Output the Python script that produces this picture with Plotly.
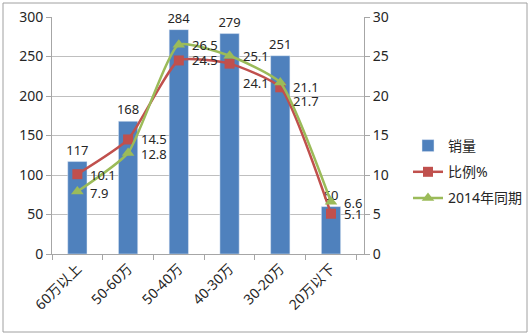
import plotly.graph_objects as go

categories = ["60万以上", "50-60万", "50-40万", "40-30万", "30-20万", "20万以下"]
sales = [117, 168, 284, 279, 251, 60]
ratio = [10.1, 14.5, 24.5, 24.1, 21.1, 5.1]
same_2014 = [7.9, 12.8, 26.5, 25.1, 21.7, 6.6]

# label vertical pixel shifts (style only)
ratio_yshift = [-1, 0, 0, -19, 0, 0]
y2014_yshift = [-1, -1, 0, 0, -18, -1]

FONT = "Noto Sans, Noto Sans CJK SC, sans-serif"
W, H = 530, 336
L, R, T, B = 52, 166, 17, 82

fig = go.Figure()
fig.add_trace(go.Bar(
    x=categories, y=sales, name="销量", marker_color="#4f81bd",
    width=0.38, text=[str(v) for v in sales], textposition="outside",
    constraintext="none",
    textfont=dict(size=13, color="#262626"), cliponaxis=False, yaxis="y",
    legendgroup="a"))
fig.add_trace(go.Scatter(
    x=categories, y=ratio, name="比例%", mode="lines+markers",
    line=dict(color="#c0504d", width=2.5, shape="spline", smoothing=0.5),
    marker=dict(symbol="square", size=10, color="#c0504d"),
    cliponaxis=False, yaxis="y2", legendgroup="b"))
fig.add_trace(go.Scatter(
    x=categories, y=same_2014, name="2014年同期", mode="lines+markers",
    line=dict(color="#9bbb59", width=2.5, shape="spline", smoothing=0.5),
    marker=dict(symbol="triangle-up", size=11, color="#9bbb59"),
    cliponaxis=False, yaxis="y2", legendgroup="c"))

for series, shifts in ((ratio, ratio_yshift), (same_2014, y2014_yshift)):
    for c, v, s in zip(categories, series, shifts):
        fig.add_annotation(x=c, y=v, xref="x", yref="y2", text=str(v),
                           showarrow=False, xanchor="left", yanchor="middle",
                           xshift=11, yshift=s,
                           font=dict(size=13, color="#262626"))

pw = W - L - R
ph = H - T - B
def px(x):
    return (x - L) / pw
def py(y):
    return (H - B - y) / ph

fig.update_layout(
    width=W, height=H,
    margin=dict(l=L, r=R, t=T, b=B, autoexpand=False),
    paper_bgcolor="white", plot_bgcolor="white",
    font=dict(family=FONT, size=13, color="#262626"),
    xaxis=dict(type="category", showline=True, linecolor="#a6a6a6", linewidth=1,
               ticks="outside", tickson="boundaries", ticklen=5, tickcolor="#a6a6a6",
               tickangle=-45, tickfont=dict(size=14), showgrid=False, automargin=False),
    yaxis=dict(range=[0, 300], dtick=50, showgrid=True, gridcolor="#bfbfbf",
               showline=True, linecolor="#a6a6a6", ticks="outside", ticklen=5,
               tickcolor="#a6a6a6", tickfont=dict(size=14), zeroline=False,
               automargin=False),
    yaxis2=dict(range=[0, 30], dtick=5, overlaying="y", side="right",
                showgrid=False, showline=True, linecolor="#a6a6a6", ticks="outside",
                ticklen=5, tickcolor="#a6a6a6", tickfont=dict(size=14), zeroline=False,
                automargin=False),
    legend=dict(x=px(408), y=py(130), xanchor="left", yanchor="top",
                font=dict(size=14), bgcolor="rgba(0,0,0,0)", tracegroupgap=5),
    shapes=[dict(type="rect", xref="paper", yref="paper",
                 x0=px(3), x1=px(527), y0=py(332), y1=py(3),
                 line=dict(color="#a0a0a0", width=1), layer="below")],
)

fig.write_html("out.html")
